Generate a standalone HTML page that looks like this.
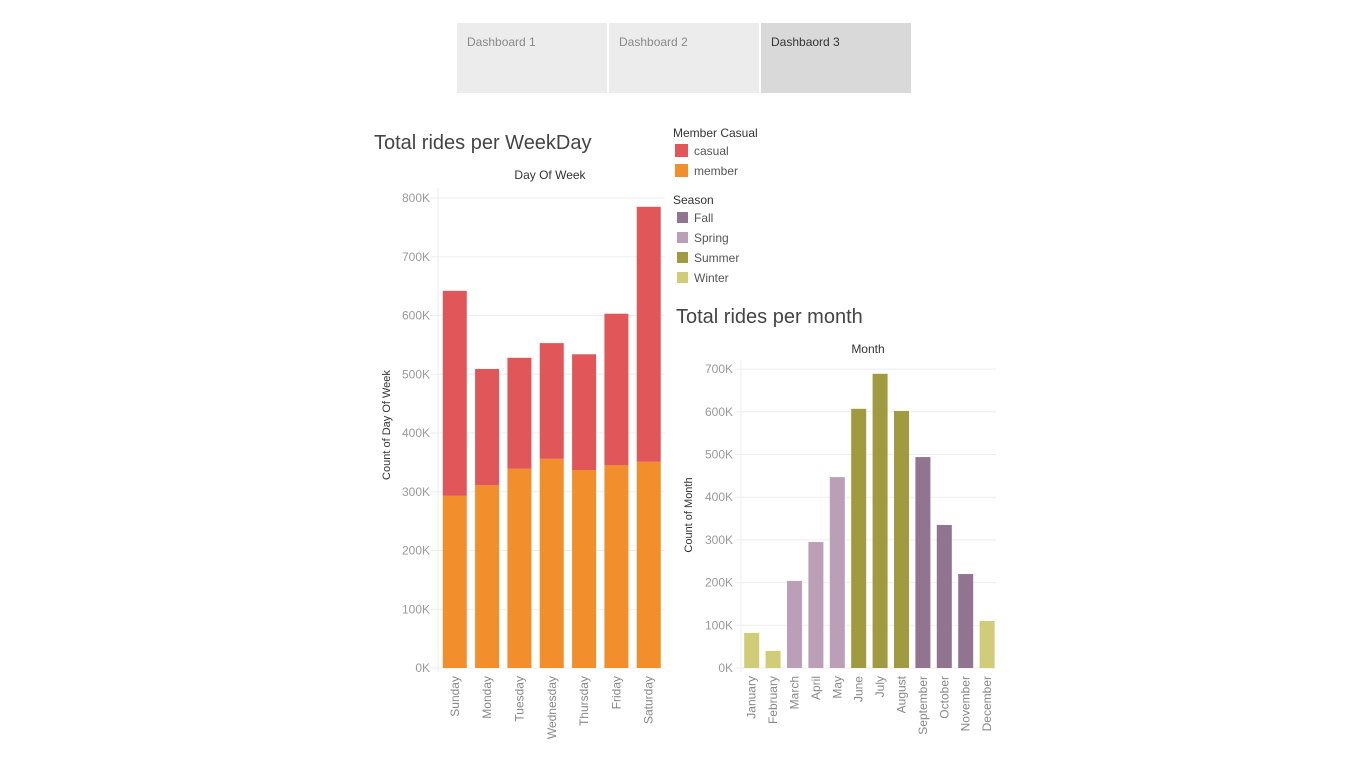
<!DOCTYPE html>
<html><head><meta charset="utf-8"><style>
body{margin:0;width:1365px;height:767px;background:#fff;font-family:"Liberation Sans","DejaVu Sans",sans-serif;overflow:hidden;position:relative}
.tab{position:absolute;top:23px;width:150px;height:70px;background:#ececec;font-size:12px;color:#888;box-sizing:border-box;padding:12px 10px}
.tab.active{background:#d9d9d9;color:#333}
svg{position:absolute;left:0;top:0}
</style></head><body>
<div class="tab" style="left:457px">Dashboard 1</div>
<div class="tab" style="left:609px">Dashboard 2</div>
<div class="tab active" style="left:761px">Dashbaord 3</div>
<svg id="s" width="1365" height="767"></svg>
<script>
const days=["Sunday","Monday","Tuesday","Wednesday","Thursday","Friday","Saturday"];
const memberVals=[293,311,339,356,337,345,351];
const casualVals=[349,198,189,197,197,258,434];
const dayTicks=[0,100,200,300,400,500,600,700,800];
const months=["January","February","March","April","May","June","July","August","September","October","November","December"];
const monthVals=[82,40,204,295,447,607,689,602,494,335,220,110];
const monthSeason=["Winter","Winter","Spring","Spring","Spring","Summer","Summer","Summer","Fall","Fall","Fall","Winter"];
const monthTicks=[0,100,200,300,400,500,600,700];
const seasonColor={Fall:"#917490",Spring:"#bb9fb7",Summer:"#a09b40",Winter:"#d0cc78"};
const NS="http://www.w3.org/2000/svg",svg=document.getElementById('s');
function el(t,a,txt){const e=document.createElementNS(NS,t);for(const k in a)e.setAttribute(k,a[k]);if(txt!==undefined)e.textContent=txt;svg.appendChild(e);return e;}
function txt(x,y,s,size,fill,anchor,rot){const a={x:x,y:y,'font-size':size,fill:fill,'text-anchor':anchor||'start'};if(rot)a.transform=`rotate(${rot} ${x} ${y})`;return el('text',a,s);}
// titles
let t=txt(374,149,"Total rides per WeekDay",20,"#444");
t=txt(676,323,"Total rides per month",20,"#444");
// legend
t=txt(673,137,"Member Casual",12,"#333");
[["casual","#e15759",150],["member","#f28e2b",170]].forEach(d=>{let r=el('rect',{x:675,y:d[2]-6,width:13,height:13,fill:d[1]});let l=txt(694,d[2]+5,d[0],12,"#555");});
t=txt(673,204,"Season",12,"#333");
["Fall","Spring","Summer","Winter"].forEach((s,i)=>{const y=217+i*20;let r=el('rect',{x:677,y:y-5,width:11,height:11,fill:seasonColor[s]});let l=txt(694,y+5,s,12,"#555");});
// weekday chart
const L={x0:438.6,x1:665,y0:668,per:58.75,band:32.33,bw:24};
const yL=v=>L.y0-v/100*L.per;
el('line',{x1:438,y1:188,x2:438,y2:672,stroke:"#eee"});
dayTicks.forEach(v=>{el('line',{x1:430,x2:L.x1,y1:yL(v),y2:yL(v),stroke:"#eee"});let l=txt(430,yL(v)+4,v+"K",12,"#999","end");});
t=txt(550,179,"Day Of Week",12,"#333","middle");
t=txt(390,425,"Count of Day Of Week",11,"#333","middle",-90);
days.forEach((d,i)=>{const cx=L.x0+L.band*(i+0.5);
 let m=el('rect',{x:cx-L.bw/2,y:yL(memberVals[i]),width:L.bw,height:L.y0-yL(memberVals[i]),fill:"#f28e2b"});
 
 let c=el('rect',{x:cx-L.bw/2,y:yL(memberVals[i]+casualVals[i]),width:L.bw,height:yL(memberVals[i])-yL(memberVals[i]+casualVals[i]),fill:"#e15759"});
 
 let l=txt(cx+4,676,d,12,"#888","end",-90);});
// month chart
const R={x0:741,x1:996,y0:668,per:42.7,band:21.4,bw:15};
const yR=v=>R.y0-v/100*R.per;
el('line',{x1:741,y1:360,x2:741,y2:672,stroke:"#eee"});
monthTicks.forEach(v=>{el('line',{x1:735,x2:R.x1,y1:yR(v),y2:yR(v),stroke:"#eee"});let l=txt(733,yR(v)+4,v+"K",12,"#999","end");});
t=txt(868,353,"Month",12,"#333","middle");
t=txt(692,515,"Count of Month",11,"#333","middle",-90);
months.forEach((m,i)=>{const cx=R.x0+R.band*(i+0.5);
 let b=el('rect',{x:cx-R.bw/2,y:yR(monthVals[i]),width:R.bw,height:R.y0-yR(monthVals[i]),fill:seasonColor[monthSeason[i]]});
 
 let l=txt(cx+4,676,m,12,"#888","end",-90);});
</script>
</body></html>
